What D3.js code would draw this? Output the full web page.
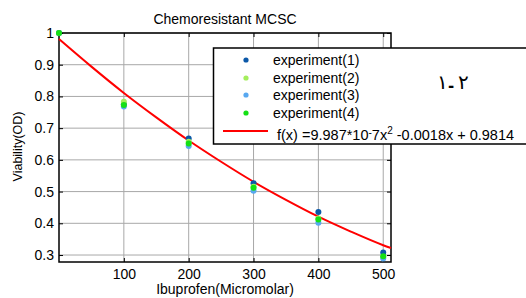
<!DOCTYPE html>
<html>
<head>
<meta charset="utf-8">
<script src="https://cdn.jsdelivr.net/npm/d3@7"></script>
<style>
  body { margin: 0; background: #fff; }
  svg { display: block; font-family: "Liberation Sans", Arial, sans-serif; }
  .grid line { stroke: #a8a8a8; stroke-width: 1; }
</style>
</head>
<body>
<svg id="chart" width="526" height="298"></svg>
<script>
// 濃度 (x)
const doses = [0, 100, 200, 300, 400, 500];
// 四次實驗的 OD 值
const exp1 = [1.0, 0.775, 0.667, 0.526, 0.436, 0.308];
const exp2 = [1.0, 0.783, 0.657, 0.515, 0.415, 0.293];
const exp3 = [1.0, 0.768, 0.644, 0.503, 0.402, 0.289];
const exp4 = [1.0, 0.773, 0.652, 0.512, 0.412, 0.296];
const seriesNames = ['experiment(1)', 'experiment(2)', 'experiment(3)', 'experiment(4)'];
const seriesColors = ['#0b58a8', '#a4ee5c', '#58a8f0', '#14e014'];
// 擬合曲線 (從圖上讀的點)
const fitX = [0, 50, 100, 150, 200, 250, 300, 350, 400, 450, 500, 512];
const fitY = [0.981, 0.894, 0.811, 0.734, 0.661, 0.594, 0.531, 0.474, 0.421, 0.374, 0.331, 0.322];
const xTicks = [100, 200, 300, 400, 500];
const yTicks = [0.3, 0.4, 0.5, 0.6, 0.7, 0.8, 0.9, 1];

const svg = d3.select('#chart');
const margin = { top: 33, right: 135, bottom: 36, left: 59 };
const width = 526 - margin.left - margin.right;
const height = 298 - margin.top - margin.bottom;

const x = d3.scaleLinear().domain([0, 512]).range([0, width]);
const y = d3.scaleLinear().domain([0.278, 1]).range([height, 0]);

const g = svg.append('g').attr('transform', `translate(${margin.left},${margin.top})`);

// 格線
g.append('g').attr('class', 'grid')
  .selectAll('line').data(xTicks).join('line')
  .attr('x1', d => x(d)).attr('x2', d => x(d))
  .attr('y1', 0).attr('y2', height);
g.append('g').attr('class', 'grid')
  .selectAll('line').data(yTicks).join('line')
  .attr('x1', 0).attr('x2', width)
  .attr('y1', d => y(d)).attr('y2', d => y(d));

// 坐標軸 (刻度朝內)
const xAxis = g.append('g').attr('transform', `translate(0,${height})`)
  .call(d3.axisBottom(x).tickValues(xTicks).tickSizeInner(-4).tickSizeOuter(0).tickPadding(7).tickFormat(d3.format('d')));
const xTop = g.append('g')
  .call(d3.axisTop(x).tickValues(xTicks).tickSizeInner(-4).tickSizeOuter(0).tickFormat(''));
const yAxis = g.append('g')
  .call(d3.axisLeft(y).tickValues(yTicks).tickSizeInner(-4).tickSizeOuter(0).tickPadding(5).tickFormat(d => d === 1 ? '1' : d3.format('.1f')(d)));
const yRight = g.append('g').attr('transform', `translate(${width},0)`)
  .call(d3.axisRight(y).tickValues(yTicks).tickSizeInner(-4).tickSizeOuter(0).tickFormat(''));

[xAxis, xTop, yAxis, yRight].forEach(a => {
  a.select('.domain').remove();
  a.selectAll('line').attr('stroke', '#000');
  a.selectAll('text').attr('font-size', 14).attr('fill', '#000')
    .attr('font-family', '"Liberation Sans", Arial, sans-serif');
});

// 外框
g.append('rect').attr('width', width).attr('height', height)
  .attr('fill', 'none').attr('stroke', '#000').attr('stroke-width', 1.5);

// 擬合線
const fitData = fitX.map((d, i) => [d, fitY[i]]);
g.append('path').datum(fitData)
  .attr('fill', 'none').attr('stroke', '#ff0000').attr('stroke-width', 2)
  .attr('d', d3.line().x(d => x(d[0])).y(d => y(d[1])).curve(d3.curveMonotoneX));

// 資料點
[exp1, exp2, exp3, exp4].forEach((vals, s) => {
  g.append('g').selectAll('circle').data(vals).join('circle')
    .attr('cx', (d, i) => x(doses[i])).attr('cy', d => y(d))
    .attr('r', 3).attr('fill', seriesColors[s]);
});

// 標題與軸標籤
svg.append('text').attr('x', margin.left + width / 2).attr('y', 24)
  .attr('text-anchor', 'middle').attr('font-size', 14).text('Chemoresistant MCSC');
svg.append('text').attr('x', margin.left + width / 2).attr('y', 294)
  .attr('text-anchor', 'middle').attr('font-size', 14).text('Ibuprofen(Micromolar)');
svg.append('text').attr('transform', `translate(22,${margin.top + height / 2 - 1}) rotate(-90)`)
  .attr('text-anchor', 'middle').attr('font-size', 12.5).text('Viability(OD)');

// 圖例
const legend = svg.append('g');
legend.append('rect').attr('x', 213.5).attr('y', 48).attr('width', 320).attr('height', 96)
  .attr('fill', '#fff').attr('stroke', '#000').attr('stroke-width', 1.5);
const rowY = [60, 78, 95, 113];
seriesNames.forEach((name, i) => {
  legend.append('circle').attr('cx', 246).attr('cy', rowY[i]).attr('r', 2.6).attr('fill', seriesColors[i]);
  legend.append('text').attr('x', 273).attr('y', rowY[i] + 5).attr('font-size', 14).text(name);
});
legend.append('line').attr('x1', 223).attr('x2', 268).attr('y1', 131).attr('y2', 131)
  .attr('stroke', '#ff0000').attr('stroke-width', 2);
const f = legend.append('text').attr('x', 277).attr('y', 140).attr('font-size', 14.5);
f.append('tspan').text('f(x) =9.987*10');
f.append('tspan').attr('dy', -4).attr('font-size', 10).text('-');
f.append('tspan').attr('dy', 4).text('7x');
f.append('tspan').attr('dy', -6).attr('font-size', 10).text('2');
f.append('tspan').attr('dy', 6).text(' -0.0018x + 0.9814');

// 阿拉伯數字標記 (分開畫，避免雙向排序)
const arText = ['١', '-', '٢'];
const arX = [437, 448, 458];
legend.selectAll('text.ar').data(arText).join('text')
  .attr('class', 'ar')
  .attr('x', (d, i) => arX[i]).attr('y', (d, i) => i === 1 ? 91 : 89)
  .attr('font-size', (d, i) => i === 1 ? 15 : 20)
  .attr('font-weight', (d, i) => i === 1 ? 'bold' : 'normal')
  .attr('font-family', '"DejaVu Sans", sans-serif')
  .text(d => d);
</script>
</body>
</html>
